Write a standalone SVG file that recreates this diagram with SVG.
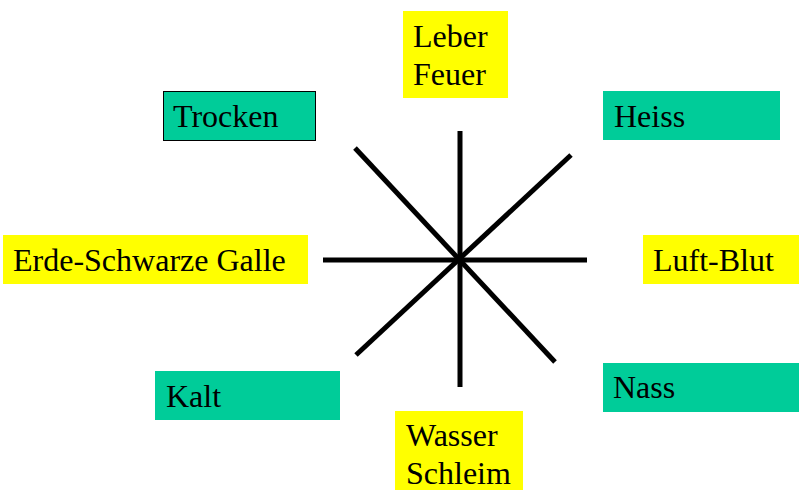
<svg xmlns="http://www.w3.org/2000/svg" width="800" height="490" viewBox="0 0 800 490">
<style>
.y{fill:#FFFF00}
.g{fill:#00CC99}
.t{font-family:'Liberation Serif','Times New Roman',Tinos,'DejaVu Serif',serif;font-size:32px;fill:#000}
.l{stroke:#000;stroke-width:5;fill:none}
</style>
<rect width="800" height="490" fill="#fff"/>
<g id="connectors">
<line class="l" x1="460" y1="131" x2="460" y2="387"/>
<line class="l" x1="323" y1="260" x2="587" y2="260"/>
<line class="l" x1="355" y1="148" x2="555" y2="362"/>
<line class="l" x1="571" y1="155" x2="356" y2="355"/>
</g>
<g id="leber">
<rect class="y" x="403" y="11" width="105" height="87"/>
<text class="t" x="413" y="47" font-family="Liberation Serif, serif">Leber</text>
<text class="t" x="413" y="85" font-family="Liberation Serif, serif">Feuer</text>
</g>
<g id="trocken">
<rect class="g" x="163.5" y="91.5" width="152" height="49" stroke="#000" stroke-width="1"/>
<text class="t" x="173" y="127">Trocken</text>
</g>
<g id="heiss">
<rect class="g" x="603" y="91" width="177" height="49"/>
<text class="t" x="614" y="127">Heiss</text>
</g>
<g id="erde">
<rect class="y" x="3" y="235" width="305" height="49"/>
<text class="t" x="13" y="271">Erde-Schwarze Galle</text>
</g>
<g id="luft">
<rect class="y" x="643" y="235" width="156" height="49"/>
<text class="t" x="653" y="271">Luft-Blut</text>
</g>
<g id="kalt">
<rect class="g" x="155" y="371" width="185" height="49"/>
<text class="t" x="166" y="407">Kalt</text>
</g>
<g id="nass">
<rect class="g" x="603" y="363" width="196" height="49"/>
<text class="t" x="613" y="398">Nass</text>
</g>
<g id="wasser">
<rect class="y" x="395" y="411" width="128" height="79"/>
<text class="t" x="406" y="446">Wasser</text>
<text class="t" x="406" y="484">Schleim</text>
</g>
</svg>
